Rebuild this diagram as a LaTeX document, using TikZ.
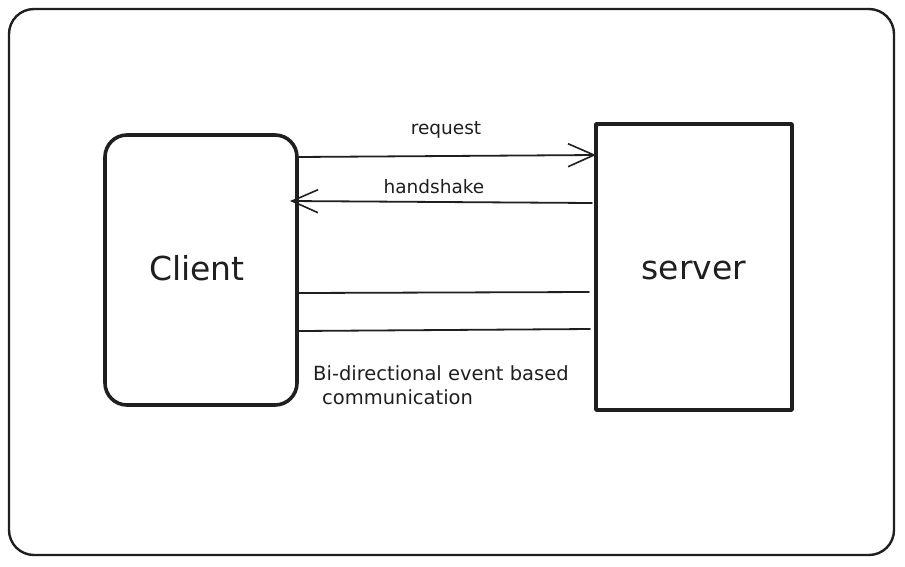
\documentclass[tikz,border=0pt]{standalone}
\usepackage{fontspec}
\setmainfont{DejaVu Sans}
\usetikzlibrary{arrows.meta}
\begin{document}
\begin{tikzpicture}[x=1pt,y=-1pt,
  ink/.style={draw=black!88, line cap=round, line join=round},
  boxline/.style={ink, line width=3.6pt},
  link/.style={ink, line width=1.8pt},
  barb/.style={-{Straight Barb[length=26pt,width=23pt,line width=1.6pt]}},
  lbl/.style={font=\fontsize{18.5}{22}\selectfont, text=black!88, inner sep=0pt},
  note/.style={font=\fontsize{19.5}{23}\selectfont, text=black!88, inner sep=0pt},
  big/.style={font=\fontsize{33}{38}\selectfont, text=black!88, inner sep=0pt}]
\useasboundingbox (0,0) rectangle (905,566);
\fill[white] (0,0) rectangle (905,566);
% outer frame
\draw[ink, line width=2.4pt, rounded corners=25pt] (9,9) rectangle (894,555);
% client
\draw[boxline, rounded corners=22pt] (105,135) rectangle (297,405);
\node[big] (clientlbl) at (197,268) {Client};
% server
\draw[boxline] (596,124) rectangle (792,410);
\node[big] (serverlbl) at (694,270) {server};
% connectors
\coordinate (c1) at (297,157); \coordinate (s1) at (596,155);
\coordinate (s2) at (592,203); \coordinate (c2) at (290,201);
\coordinate (c3) at (299,293); \coordinate (s3) at (589,292);
\coordinate (c4) at (299,331); \coordinate (s4) at (590,329);
\draw[link, barb] (c1) -- (s1);
\draw[link, barb] (s2) -- (c2);
\draw[link] (c3) -- (s3);
\draw[link] (c4) -- (s4);
% labels
\node[lbl] (req) at (446,130) {request};
\node[lbl] (hs) at (434,187) {handshake};
\node[note, anchor=west] (bi1) at (313,373) {Bi-directional event based};
\node[note, anchor=west] (bi2) at (322,397) {communication};
\end{tikzpicture}
\end{document}
